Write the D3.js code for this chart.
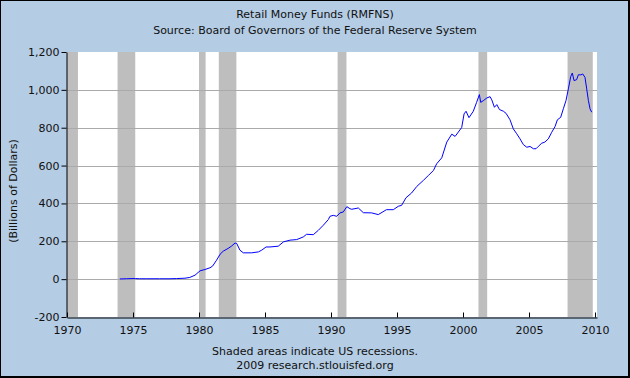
<!DOCTYPE html>
<html><head><meta charset="utf-8">
<script src="https://cdn.jsdelivr.net/npm/d3@7"></script>
<style>body{margin:0;padding:0;background:#fff}svg{display:block}</style>
</head><body>
<script>
const titleLines = ["Retail Money Funds (RMFNS)", "Source: Board of Governors of the Federal Reserve System"];
const footerLines = ["Shaded areas indicate US recessions.", "2009 research.stlouisfed.org"];
const yAxisLabel = "(Billions of Dollars)";
const xTicks = [1970,1975,1980,1985,1990,1995,2000,2005,2010];
const yTicks = [-200,0,200,400,600,800,1000,1200];
const gridValues = [0,200,400,600,800,1000];
const recessions = [[1969.92,1970.83],[1973.83,1975.17],[1980.0,1980.5],[1981.5,1982.83],[1990.5,1991.17],[2001.17,2001.83],[2007.92,2009.83]];
const years = [1974.0,1974.5,1975.0,1975.2,1975.5,1976.0,1977.0,1977.8,1978.3,1978.94,1979.3,1979.7,1980.08,1980.45,1980.83,1981.03,1981.33,1981.6,1981.84,1982.2,1982.47,1982.73,1982.86,1983.1,1983.36,1983.99,1984.5,1984.75,1985.08,1985.38,1986.0,1986.4,1986.9,1987.4,1987.9,1988.15,1988.66,1989.04,1989.42,1989.8,1989.92,1990.17,1990.43,1990.68,1990.93,1991.2,1991.44,1991.57,1992.07,1992.45,1993.08,1993.58,1994.2,1994.72,1995.1,1995.35,1995.68,1996.1,1996.5,1997.0,1997.38,1997.76,1998.0,1998.39,1998.77,1999.15,1999.4,1999.9,2000.08,2000.23,2000.45,2000.78,2001.03,2001.24,2001.34,2001.54,2001.8,2002.05,2002.18,2002.38,2002.56,2002.76,2003.06,2003.26,2003.56,2003.81,2004.07,2004.32,2004.57,2004.83,2005.08,2005.33,2005.53,2005.7,2005.96,2006.2,2006.46,2006.72,2006.97,2007.15,2007.4,2007.6,2007.8,2007.98,2008.16,2008.28,2008.41,2008.61,2008.74,2008.92,2009.07,2009.24,2009.37,2009.5,2009.62,2009.75];
const values = [1,2,3,3,2,2,2,2,3,5,9,21,44,51,60,69,100,132,148,162,175,191,188,153,139,139,144,153,170,170,174,197,206,209,223,237,235,258,285,315,332,337,332,350,355,383,372,369,376,351,350,341,367,367,385,390,430,455,490,522,548,574,609,641,724,766,754,801,873,887,853,887,934,975,934,943,957,964,947,908,922,896,887,876,842,794,768,741,711,697,701,689,689,701,718,724,741,776,806,842,855,900,943,1005,1070,1089,1049,1054,1080,1079,1084,1066,1005,943,900,882];

const W = 630, H = 378;
const L = 67, R = 597, T = 52, B = 317;
const font = "DejaVu Sans, Verdana, sans-serif";
const svg = d3.select("body").append("svg").attr("width", W).attr("height", H);
svg.append("rect").attr("width", W).attr("height", H).attr("fill", "#b4cce4");
svg.append("rect").attr("x",0.5).attr("y",0.5).attr("width",W-1).attr("height",H-1).attr("fill","none").attr("stroke","#000");
svg.append("line").attr("x1",0).attr("x2",W).attr("y1",H-1.5).attr("y2",H-1.5).attr("stroke","#000");
svg.append("line").attr("x1",W-1.5).attr("x2",W-1.5).attr("y1",0).attr("y2",H).attr("stroke","#000");

const x = d3.scaleLinear().domain([1970, 2010.15]).range([L, R]);
const y = d3.scaleLinear().domain([-200, 1200]).range([B, T]);

svg.append("rect").attr("x", L).attr("y", T).attr("width", R - L).attr("height", B - T).attr("fill", "#fff");
svg.append("clipPath").attr("id","pc").append("rect").attr("x", L).attr("y", T).attr("width", R-L).attr("height", B-T);
svg.append("g").attr("clip-path","url(#pc)").selectAll("rect").data(recessions).join("rect")
  .attr("x", d => x(d[0])).attr("width", d => x(d[1]) - x(d[0]))
  .attr("y", T).attr("height", B - T).attr("fill", "#bebebe");
svg.append("g").selectAll("line").data(gridValues).join("line")
  .attr("x1", L).attr("x2", R).attr("y1", d => Math.round(y(d)) + 0.5).attr("y2", d => Math.round(y(d)) + 0.5)
  .attr("stroke", "#aaaaaa").attr("stroke-width", 1);

const pts = years.map((t, i) => [t, values[i]]);
svg.append("path").datum(pts)
  .attr("d", d3.line().x(d => x(d[0])).y(d => y(d[1])))
  .attr("fill", "none").attr("stroke", "#0000ff").attr("stroke-width", 1);

const fmtY = v => d3.format(",")(v).replace("\u2212", "-");
const ya = svg.append("g").attr("transform", `translate(${L - 0.5},0)`)
  .call(d3.axisLeft(y).tickValues(yTicks).tickFormat(fmtY).tickSize(5).tickPadding(2).tickSizeOuter(0));
ya.select(".domain").attr("stroke", "#000");
ya.selectAll("text").attr("font-family", font).attr("font-size", 11).attr("fill", "#111");

const xa = svg.append("g").attr("transform", `translate(0,${B + 0.5})`)
  .call(d3.axisBottom(x).tickValues(xTicks).tickFormat(d3.format("d")).tickSize(-5).tickPadding(9).tickSizeOuter(0));
xa.select(".domain").attr("stroke", "#000");
xa.selectAll("text").attr("font-family", font).attr("font-size", 11).attr("fill", "#111");

svg.append("g").selectAll("text").data(titleLines).join("text")
  .attr("x", 315).attr("y", (d, i) => 18 + i * 16).attr("text-anchor", "middle")
  .attr("font-family", font).attr("font-size", 11).attr("fill", "#111").text(d => d);
svg.append("g").selectAll("text").data(footerLines).join("text")
  .attr("x", 315).attr("y", (d, i) => 355 + i * 14).attr("text-anchor", "middle")
  .attr("font-family", font).attr("font-size", 11).attr("fill", "#111").text(d => d);
svg.append("text").attr("transform", "translate(17,191) rotate(-90)").attr("text-anchor", "middle")
  .attr("font-family", font).attr("font-size", 11).attr("fill", "#111").text(yAxisLabel);
</script>
</body></html>
